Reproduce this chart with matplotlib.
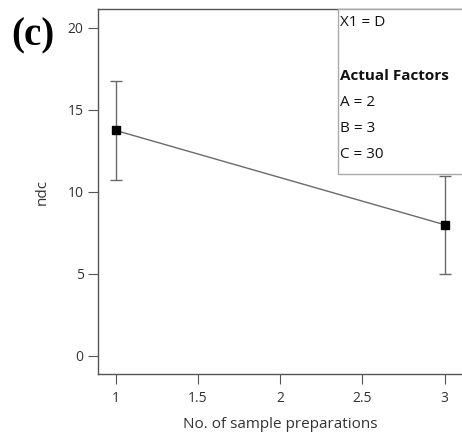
import matplotlib
matplotlib.use("Agg")
import matplotlib.pyplot as plt
from matplotlib.patches import Rectangle

x_vals = [1, 3]
ndc_vals = [13.75, 8.0]
err_vals = [3.0, 3.0]
x_ticks = [1, 1.5, 2, 2.5, 3]
x_tick_labels = ["1", "1.5", "2", "2.5", "3"]
y_ticks = [0, 5, 10, 15, 20]
legend_lines = ["X1 = D", "", "Actual Factors", "A = 2", "B = 3", "C = 30"]

plt.rcParams['font.family'] = ['Open Sans', 'DejaVu Sans']

W, H = 462, 436
fig = plt.figure(figsize=(W / 100, H / 100), dpi=100)
left, right, top, bottom = 97.5, 463, 9, 374
ax = fig.add_axes([left / W, 1 - bottom / H, (right - left) / W, (bottom - top) / H])

ax.errorbar(x_vals, ndc_vals, yerr=err_vals, color='#6a6a6a', lw=1.0,
            ecolor='#6a6a6a', elinewidth=1.0, capsize=4.5, capthick=1.0,
            marker='s', markersize=5.5, mfc='black', mec='black', zorder=3)

ax.set_xlim(0.89, 3.112)
ax.set_ylim(-1.1, 21.15)
ax.set_xticks(x_ticks)
ax.set_xticklabels(x_tick_labels)
ax.set_yticks(y_ticks)
ax.tick_params(axis='both', direction='out', length=7, width=0.8, color='#555555',
               labelsize=10, labelcolor='#333333', pad=3)
ax.tick_params(axis='x', pad=5)
for s in ['left', 'bottom', 'top']:
    ax.spines[s].set_color('#555555')
    ax.spines[s].set_linewidth(1.0)
ax.spines['right'].set_visible(False)

ax.set_xlabel("No. of sample preparations", fontsize=11, color='#333333', labelpad=8)
ax.set_ylabel("ndc", fontsize=11, color='#333333', labelpad=13)

# factor box
bx0 = (337.5 - left) / (right - left)
by0 = (bottom - 174) / (bottom - top)
rect = Rectangle((bx0, by0), 1.2, 1 - by0, transform=ax.transAxes,
                 facecolor='white', edgecolor='#aaaaaa', lw=1.0, zorder=4, clip_on=False)
ax.add_patch(rect)
ys = [23, 49, 76, 102, 128, 154]
for txt, yp in zip(legend_lines, ys):
    if not txt:
        continue
    fig.text(340.5 / W, 1 - yp / H, txt, fontsize=11,
             fontweight='bold' if txt == "Actual Factors" else 'normal',
             color='#111111', va='center', ha='left', zorder=5)

fig.text(11 / W, 1 - 36 / H, "(c)", fontsize=28, fontweight='bold',
         family=['Liberation Serif', 'DejaVu Serif'], va='center', ha='left')

fig.savefig("out.png", dpi=100)
